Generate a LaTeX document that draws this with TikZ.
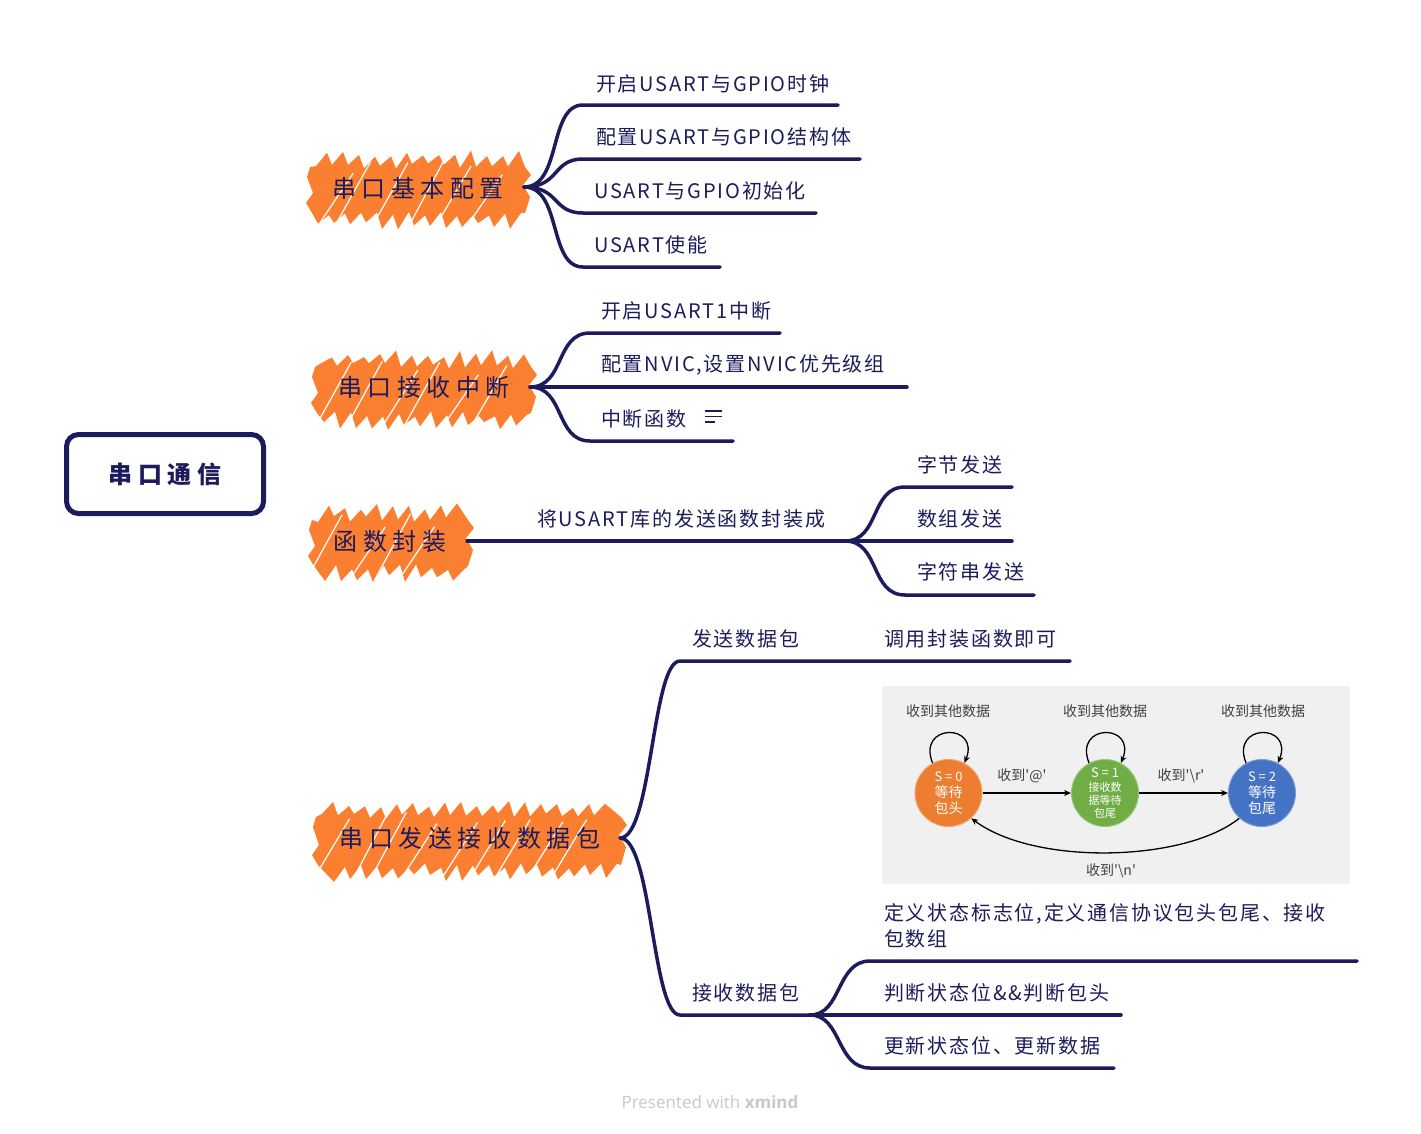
\documentclass[tikz,border=0pt]{standalone}
\usepackage{fontspec}
\setmainfont{Noto Sans CJK SC}
\newfontfamily\leaffont[LetterSpace=9]{Noto Sans CJK SC}
\newfontfamily\topicfont[LetterSpace=23]{Noto Sans CJK SC}
\newfontfamily\sdfont[Ligatures=TeXOff]{Noto Sans CJK SC}
\newfontfamily\footfont{Open Sans}
\usetikzlibrary{arrows.meta}
\definecolor{navy}{HTML}{1C1C5C}
\definecolor{blobor}{HTML}{FB7F31}
\definecolor{sdbg}{HTML}{F0F0F0}
\definecolor{sdtext}{HTML}{404040}
\definecolor{stor}{HTML}{ED7D31}
\definecolor{stgr}{HTML}{70AD47}
\definecolor{stbl}{HTML}{4472C4}
\definecolor{footgray}{HTML}{C8C8C8}
\tikzset{
  topic/.style={inner sep=0, text=navy, font=\topicfont\fontsize{24}{28}\selectfont},
  leaf/.style={anchor=west, inner sep=0, text=navy, font=\leaffont\fontsize{20}{26}\selectfont},
  rootbox/.style={draw=navy, line width=5, rounded corners=12, minimum width=197, minimum height=79, inner sep=0, text=navy, font=\topicfont\bfseries\fontsize{24}{28}\selectfont},
  conn/.style={draw=navy, line width=3.5, line cap=round},
  blobgap/.style={draw=white, line width=1.2},
  stnode/.style={circle, minimum size=67, inner sep=0, text=white, align=center, font=\sdfont\fontsize{13}{16}\selectfont},
  sdlabel/.style={text=sdtext, font=\sdfont\fontsize{14}{16}\selectfont, inner sep=0},
  sdarrow/.style={draw=black, line width=1.3, -{Stealth[length=7,width=6]}},
  footer/.style={text=footgray, font=\footfont\fontsize{17}{20}\selectfont, inner sep=0}
}
% orange scribble blob: #1=x1 #2=y1 (top) #3=x2 #4=y2 (bottom)
\newcommand\myblob[4]{%
  \pgfmathsetmacro\bxa{#1+6}\pgfmathsetmacro\bxb{#1+22}\pgfmathsetmacro\bxe{#3-18}%
  \pgfmathsetmacro\bxf{#3-6}\pgfmathsetmacro\bxg{#3-22}\pgfmathsetmacro\bxh{#1+18}%
  \fill[blobor] (#1,#2+12)
    \foreach \x in {\bxa,\bxb,...,\bxe}{ -- (\x,#2+11+rand*3) -- (\x+11,#2-1+rand*4) }
    -- (#3-2,#2+12) -- (#3+4,#2+20) -- (#3-4,#2+30) -- (#3+3,#2+42) -- (#3-2,#4-12)
    \foreach \x in {\bxf,\bxg,...,\bxh}{ -- (\x,#4-11+rand*3) -- (\x-11,#4+1+rand*4) }
    -- (#1+2,#4-12) -- (#1-4,#4-22) -- (#1+3,#4-32) -- (#1-3,#2+22) -- cycle;
  \pgfmathsetmacro\bstep{#1+52}%
  \foreach \x in {\bxb,\bstep,...,\bxe}{%
    \pgfmathsetmacro\jd{rand*8}\pgfmathsetmacro\je{rand*10}%
    \draw[blobgap] (\x-20+\jd,#4+2) -- (\x+16+\jd,#2+14+\je);
  }%
}
\begin{document}
\begin{tikzpicture}[x=1pt,y=-1pt]
\pgfmathsetseed{11}
\useasboundingbox (0,0) rectangle (1421,1133);

% root
\node[rootbox] (root) at (165,474) {串口通信};

% ---------- branch 1
\myblob{310}{155}{527}{225}
\node[topic] (t1) at (418,188) {串口基本配置};
\coordinate (o1) at (524,187);
\node[leaf] (l11) at (596,84) {开启USART与GPIO时钟};
\node[leaf] (l12) at (596,137) {配置USART与GPIO结构体};
\node[leaf] (l13) at (594,191) {USART与GPIO初始化};
\node[leaf] (l14) at (594,245) {USART使能};
\coordinate (u11a) at (583,105); \coordinate (u11b) at (838,105);
\coordinate (u12a) at (583,159); \coordinate (u12b) at (860,159);
\coordinate (u13a) at (583,213); \coordinate (u13b) at (816,213);
\coordinate (u14a) at (583,267); \coordinate (u14b) at (720,267);
\draw[conn] (o1) .. controls (562,187) and (548,105) .. (u11a) -- (u11b);
\draw[conn] (o1) .. controls (560,187) and (552,159) .. (u12a) -- (u12b);
\draw[conn] (o1) .. controls (560,187) and (552,213) .. (u13a) -- (u13b);
\draw[conn] (o1) .. controls (562,187) and (548,267) .. (u14a) -- (u14b);

% ---------- branch 2
\myblob{315}{355}{533}{425}
\node[topic] (t2) at (424,387) {串口接收中断};
\coordinate (o2) at (530,387);
\node[leaf] (l21) at (601,311) {开启USART1中断};
\node[leaf] (l22) at (601,365) {配置NVIC,设置NVIC优先级组};
\node[leaf] (l23) at (601,419) {中断函数};
\draw[navy, line width=1.6] (705,411) -- (722,411) (705,416.5) -- (722,416.5) (705,422) -- (715,422);
\coordinate (u21a) at (590,333); \coordinate (u21b) at (780,333);
\coordinate (u22a) at (590,387); \coordinate (u22b) at (907,387);
\coordinate (u23a) at (590,441); \coordinate (u23b) at (733,441);
\draw[conn] (o2) .. controls (565,387) and (555,333) .. (u21a) -- (u21b);
\draw[conn] (o2) -- (u22a) -- (u22b);
\draw[conn] (o2) .. controls (565,387) and (555,441) .. (u23a) -- (u23b);

% ---------- branch 3
\myblob{312}{508}{470}{578}
\node[topic] (t3) at (390,541) {函数封装};
\coordinate (o3) at (467,541);
\coordinate (o3b) at (845,541);
\node[leaf] (l30) at (537,519) {将USART库的发送函数封装成};
\draw[conn] (o3) -- (o3b);
\node[leaf] (l31) at (917,465) {字节发送};
\node[leaf] (l32) at (917,519) {数组发送};
\node[leaf] (l33) at (917,572) {字符串发送};
\coordinate (u31a) at (905,487); \coordinate (u31b) at (1012,487);
\coordinate (u32a) at (905,541); \coordinate (u32b) at (1012,541);
\coordinate (u33a) at (905,595); \coordinate (u33b) at (1034,595);
\draw[conn] (o3b) .. controls (880,541) and (870,487) .. (u31a) -- (u31b);
\draw[conn] (o3b) -- (u32a) -- (u32b);
\draw[conn] (o3b) .. controls (880,541) and (870,595) .. (u33a) -- (u33b);

% ---------- branch 4
\myblob{316}{805}{623}{877}
\node[topic] (t4) at (470,838) {串口发送接收数据包};
\coordinate (o4) at (620,838);
\node[leaf] (l41) at (692,639) {发送数据包};
\node[leaf] (l42) at (884,639) {调用封装函数即可};
\node[leaf] (l43) at (692,993) {接收数据包};
\coordinate (u41a) at (680,661); \coordinate (u41b) at (810,661);
\coordinate (u42b) at (1070,661);
\coordinate (u43a) at (680,1015); \coordinate (u43b) at (810,1015);
\draw[conn] (o4) .. controls (652,838) and (652,661) .. (u41a) -- (u41b) -- (u42b);
\draw[conn] (o4) .. controls (652,838) and (652,1015) .. (u43a) -- (u43b);

% sub-leaves of 接收数据包
\node[leaf, align=left] (l44) at (884,926) {定义状态标志位,定义通信协议包头包尾、接收\\包数组};
\node[leaf] (l45) at (884,993) {判断状态位\&\&判断包头};
\node[leaf] (l46) at (884,1046) {更新状态位、更新数据};
\coordinate (u44a) at (870,961); \coordinate (u44b) at (1357,961);
\coordinate (u45a) at (870,1015); \coordinate (u45b) at (1121,1015);
\coordinate (u46a) at (870,1068); \coordinate (u46b) at (1114,1068);
\draw[conn] (u43b) .. controls (842,1015) and (836,961) .. (u44a) -- (u44b);
\draw[conn] (u43b) -- (u45a) -- (u45b);
\draw[conn] (u43b) .. controls (842,1015) and (836,1068) .. (u46a) -- (u46b);

% state diagram image
\fill[sdbg] (882,686) rectangle (1350,884);
\node[stnode, fill=stor, draw=stor!70!white, line width=1] (s0) at (948.5,793) {S = 0\\\fontsize{14}{16}\selectfont 等待\\\fontsize{14}{16}\selectfont 包头};
\node[stnode, fill=stgr, draw=stgr!70!white, line width=1] (s1) at (1105,793) {S = 1\\[-2pt]\fontsize{11}{13}\selectfont 接收数\\[-3pt]\fontsize{11}{13}\selectfont 据等待\\[-3pt]\fontsize{11}{13}\selectfont 包尾};
\node[stnode, fill=stbl, draw=stbl!70!white, line width=1] (s2) at (1262,793) {S = 2\\\fontsize{14}{16}\selectfont 等待\\\fontsize{14}{16}\selectfont 包尾};
\node[sdlabel] (la0) at (948,711) {收到其他数据};
\node[sdlabel] (la1) at (1105,711) {收到其他数据};
\node[sdlabel] (la2) at (1263,711) {收到其他数据};
\draw[sdarrow] (s0.118) .. controls +(-16,-40) and +(16,-40) .. (s0.62);
\draw[sdarrow] (s1.118) .. controls +(-16,-40) and +(16,-40) .. (s1.62);
\draw[sdarrow] (s2.118) .. controls +(-16,-40) and +(16,-40) .. (s2.62);
\draw[sdarrow] (s0) -- (s1);
\draw[sdarrow] (s1) -- (s2);
\draw[sdarrow] (s2.228) .. controls (1185,862) and (1035,866) .. (s0.312);
\node[sdlabel] (la3) at (1022,776) {收到'@'};
\node[sdlabel] (la4) at (1181,776) {收到'\textbackslash r'};
\node[sdlabel] (la5) at (1111,871) {收到'\textbackslash n'};

% footer
\node[footer] (ft) at (710,1102) {Presented with \textbf{xmind}};
\end{tikzpicture}
\end{document}
